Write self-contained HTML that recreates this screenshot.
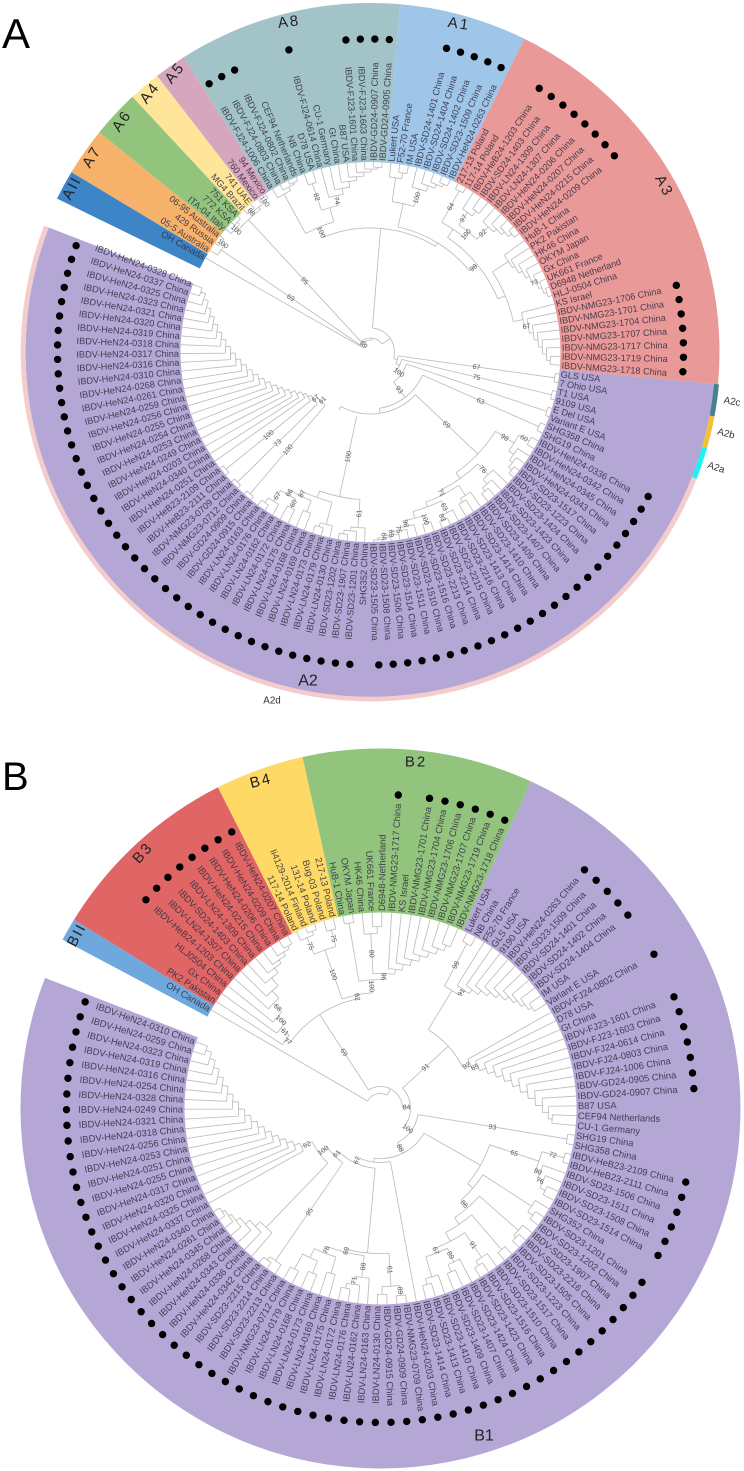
<!DOCTYPE html>
<html lang="en">
<head>
<meta charset="utf-8">
<title>IBDV circular phylogenetic trees A and B</title>
<style>
html,body{margin:0;padding:0;background:#fff;}
svg{display:block;font-family:"Liberation Sans",Arial,sans-serif;}
.leaf{fill:#322f40;fill-opacity:.88;}
.sup{fill:#5c5c5c;font-size:7px;}
.clade{fill:#222;font-size:15px;letter-spacing:2px;text-anchor:middle;dominant-baseline:central;}
.small{fill:#333;font-size:9.8px;text-anchor:middle;dominant-baseline:central;}
</style>
</head>
<body>
<svg id="figure" xmlns="http://www.w3.org/2000/svg" width="744" height="1471" viewBox="0 0 744 1471">
  <g id="panelA"></g>
  <g id="panelB"></g>

  <text x="2" y="48" font-size="42" fill="#000">A</text>
  <text x="2" y="790" font-size="40" fill="#000">B</text>

  <text class="clade" transform="translate(289,22) rotate(-7)">A8</text>
  <text class="clade" transform="translate(459,24) rotate(8)">A1</text>
  <text class="clade" transform="translate(664,186) rotate(62)">A3</text>
  <text class="clade" transform="translate(175,73) rotate(-52)">A5</text>
  <text class="clade" transform="translate(150,93) rotate(-52)">A4</text>
  <text class="clade" transform="translate(122,121) rotate(-55)">A6</text>
  <text class="clade" transform="translate(92,157) rotate(-58)">A7</text>
  <text class="clade" transform="translate(72,188) rotate(-62)">AII</text>
  <text class="clade" transform="translate(308,681)" style="letter-spacing:0;font-size:16px">A2</text>
  <text class="small" transform="translate(272,701)">A2d</text>
  <text class="small" transform="translate(732,402) rotate(10)">A2c</text>
  <text class="small" transform="translate(726,434) rotate(15)">A2b</text>
  <text class="small" transform="translate(716,468) rotate(18)">A2a</text>

  <text class="clade" transform="translate(77,935) rotate(-62)">BII</text>
  <text class="clade" transform="translate(143,853) rotate(-48)">B3</text>
  <text class="clade" transform="translate(261,781) rotate(-14)">B4</text>
  <text class="clade" transform="translate(416,762)">B2</text>
  <text class="clade" transform="translate(484,1436)" style="letter-spacing:0;font-size:16px">B1</text>
</svg>

<script>
// ---------- Panel A data ----------
const leavesA = ["OH Canada","05-5 Australia","429 Russia","06-95 Australia","ITA-04 Italy","772 KSA","751 KSA","MG4 Brazil","741 UAE","760 Mexico","94 Mexico",
"IBDV-FJ24-1006 China","IBDV-FJ24-0803 China","IBDV-FJ24-0802 China","CEF94 Netherlands","NB China","D78 USA","IBDV-FJ24-0614 China","CU-1 Germany","Gt China","B87 USA","IBDV-FJ23-1601 China","IBDV-FJ23-1603 China","IBDV-GD24-0907 China","IBDV-GD24-0905 China",
"Lukert USA","F52-70 France","IM USA","IBDV-SD24-1401 China","IBDV-SD24-1404 China","IBDV-SD24-1402 China","IBDV-SD23-1509 China","IBDV-HeN24-0263 China",
"217-13 Poland","117-14 Poland","IBDV-HeB24-1203 China","IBDV-SD24-1403 China","IBDV-LN24-1309 China","IBDV-LN24-1307 China","IBDV-HeN24-0206 China","IBDV-HeN24-0207 China","IBDV-HeN24-0215 China","IBDV-HeN24-0209 China","HuB-1 China","PK2 Pakistan","HK46 China","OKYM Japan","Gx China","UK661 France","D6948 Netherland","HLJ-0504 China","KS Israel","IBDV-NMG23-1706 China","IBDV-NMG23-1701 China","IBDV-NMG23-1704 China","IBDV-NMG23-1707 China","IBDV-NMG23-1717 China","IBDV-NMG23-1719 China","IBDV-NMG23-1718 China",
"GLS USA","7 Ohio USA","T1 USA","9109 USA","E Del USA","Variant E USA","SHG358 China","SHG19 China","IBDV-HeN24-0336 China","IBDV-HeN24-0342 China","IBDV-HeN24-0345 China","IBDV-HeN24-0343 China","IBDV-SD23-1517 China","IBDV-SD23-1223 China","IBDV-SD23-1424 China","IBDV-SD23-1423 China","IBDV-SD23-1407 China","IBDV-SD23-1409 China","IBDV-SD23-1410 China","IBDV-SD23-1414 China","IBDV-SD23-1413 China","IBDV-SD23-2216 China","IBDV-SD23-2215 China","IBDV-SD23-2214 China","IBDV-SD23-2213 China","IBDV-SD23-1516 China","IBDV-SD23-1510 China","IBDV-SD23-1511 China","IBDV-SD23-1514 China","IBDV-SD23-1506 China","IBDV-SD23-1508 China","IBDV-SD23-1505 China",
"SHG352 China","IBDV-SD23-1201 China","IBDV-SD23-1907 China","IBDV-SD23-1202 China","IBDV-LN24-0130 China","IBDV-LN24-0179 China","IBDV-LN24-0173 China","IBDV-LN24-0169 China","IBDV-LN24-0168 China","IBDV-LN24-0175 China","IBDV-LN24-0172 China","IBDV-LN24-0162 China","IBDV-LN24-0176 China","IBDV-LN24-0163 China","IBDV-GD24-0915 China","IBDV-GD24-0909 China","IBDV-NMG23-0712 China","IBDV-NMG23-0709 China","IBDV-HeB23-2111 China","IBDV-HeB23-2109 China","IBDV-HeN24-0251 China","IBDV-HeN24-0340 China","IBDV-HeN24-0203 China","IBDV-HeN24-0249 China","IBDV-HeN24-0253 China","IBDV-HeN24-0254 China","IBDV-HeN24-0255 China","IBDV-HeN24-0256 China","IBDV-HeN24-0259 China","IBDV-HeN24-0261 China","IBDV-HeN24-0268 China","IBDV-HeN24-0310 China","IBDV-HeN24-0316 China","IBDV-HeN24-0317 China","IBDV-HeN24-0318 China","IBDV-HeN24-0319 China","IBDV-HeN24-0320 China","IBDV-HeN24-0321 China","IBDV-HeN24-0323 China","IBDV-HeN24-0325 China","IBDV-HeN24-0337 China","IBDV-HeN24-0328 China"];
const cladeNamesA = ["AII","A7","A6","A4","A5","A8","A1","A3","A2"];
const cladeCountsA = [1,3,3,2,2,14,8,26,74];
const subcladeNamesA = ["A2c","A2b","A2a","A2d"];
const subcladeCountsA = [2,2,2,68];
// Tree nodes: [depth, support, ...children]; a bare number is a leaf index.
const treeA = [10,"69",
  [189,null,0],
  [12,null,
    [181,"69",1,[185,"100",2,3]],
    [14,null,
      [180,"95",[183,"100",4,[186,null,5,6]],[183,null,[185,"88",7,8],[185,"100",9,10]]],
      [24,null,
        [124,null,
          [135,"100",
            [180,null,11,[184,null,12,[186,null,13,14]]],
            [150,null,[178,"82",15,16],[160,"74",17,[166,null,18,[172,null,19,[176,null,20,[180,null,21,[183,null,22,[185,null,23,24]]]]]]]]
          ],
          [128,null,
            [152,null,[176,null,25,[182,null,26,27]],[170,"100",28,[176,null,29,[180,null,30,[183,null,31,32]]]]],
            [138,"98",
              [148,null,[184,"64",33,34],[155,"100",[170,"97",35,[176,null,36,37]],[172,"92",38,[176,null,39,[180,null,40,[184,null,41,42]]]]]],
              [146,null,
                [165,null,43,[168,null,44,[172,null,45,[176,null,46,[180,"73",47,[183,null,48,[186,null,49,50]]]]]]],
                [156,null,51,[160,"67",52,[164,null,53,[168,null,54,[172,null,55,[176,null,56,[180,null,57,58]]]]]]]
              ]
            ]
          ]
        ],
        [28,null,
          [186,"67",59,60],
          [32,null,
            [186,"75",61,62],
            [38,"100",
              [186,null,63,64],
              [57,"93",
                [184,"63",65,66],
                [62,null,
                  [148,"69",
                    [170,"98",[182,"60",67,68],[176,null,69,[180,null,70,[184,null,71,72]]]],
                    [155,null,
                      [170,"76",73,[176,null,74,[180,null,75,76]]],
                      [160,"71",
                        [172,null,77,[176,null,78,79]],
                        [165,null,
                          [178,"63",80,[183,"83",81,82]],
                          [172,null,[180,"100",83,84],[178,"98",85,[181,"75",86,[184,"69",87,[186,"64",88,[188,null,89,90]]]]]]
                        ]
                      ]
                    ]
                  ],
                  [66,null,
                    [70,"61",
                      [186,"100",105,106],
                      [74,"67",
                        [186,"73",107,108],
                        [77,null,
                          [186,"100",109,110],
                          [80,null,111,[85,null,112,[90,null,113,[95,null,114,[100,null,115,[105,null,116,[110,null,117,[115,null,118,[120,null,119,[125,null,120,[130,null,121,[135,null,122,[140,null,123,[145,null,124,[150,null,125,[155,null,126,[160,null,127,[165,null,128,[170,null,129,[175,null,130,[180,null,131,132]]]]]]]]]]]]]]]]]]]]]
                        ]
                      ]
                    ],
                    [148,"100",
                      [176,"61",91,[180,null,92,[184,null,93,94]]],
                      [155,null,[178,null,95,[182,null,96,97]],[160,"87",[172,null,98,99],[165,"66",[175,"60",100,101],[178,"67",102,[184,null,103,104]]]]]
                    ]
                  ]
                ]
              ]
            ]
          ]
        ]
      ]
    ]
  ]
];

// ---------- Panel B data ----------
const leavesB = ["OH Canada","PK2 Pakistan","Gx China","HLJ0504 China","IBDV-HeB24-1203 China","IBDV-LN24-1307 China","IBDV-SD24-1403 China","IBDV-LN24-1309 China","IBDV-HeN24-0215 China","IBDV-HeN24-0206 China","IBDV-HeN24-0209 China","IBDV-HeN24-0207 China",
"117-14 Poland","Ii4129-2014 Finland","131-14 Poland","Bug-03 Poland","217-13 Poland",
"HuB-1 China","OKYM Japan","HK46 China","UK661 France","D6948-Netherland","IBDV-NMG23-1717 China","KS Israel","IBDV-NMG23-1701 China","IBDV-NMG23-1704 China","IBDV-NMG23-1706 China","IBDV-NMG23-1707 China","IBDV-NMG23-1719 China","IBDV-NMG23-1718 China",
"Lukert USA","NB China","F52-70 France","GLS USA","9190 USA","IBDV-HeN24-0263 China","IBDV-SD23-1509 China","IBDV-SD24-1401 China","IBDV-SD24-1402 China","IBDV-SD24-1404 China","IM USA","Variant E USA","IBDV-FJ24-0802 China","D78 USA","Gt China","IBDV-FJ23-1601 China","IBDV-FJ23-1603 China","IBDV-FJ24-0614 China","IBDV-FJ24-0803 China","IBDV-FJ24-1006 China","IBDV-GD24-0905 China","IBDV-GD24-0907 China","B87 USA","CEF94 Netherlands","CU-1 Germany","SHG19 China","SHG358 China","IBDV-HeB23-2109 China","IBDV-HeB23-2111 China","IBDV-SD23-1506 China","IBDV-SD23-1511 China","IBDV-SD23-1508 China","IBDV-SD23-1514 China","SHG352 China","IBDV-SD23-1201 China","IBDV-SD23-1202 China","IBDV-SD23-1907 China","IBDV-SD23-2216 China","IBDV-SD23-1505 China","IBDV-SD23-1223 China","IBDV-SD23-1517 China","IBDV-SD23-1510 China","IBDV-SD23-1516 China","IBDV-SD23-1423 China","IBDV-SD23-1424 China","IBDV-SD23-1407 China","IBDV-SD23-1409 China","IBDV-SD23-1410 China","IBDV-SD23-1413 China","IBDV-SD23-1414 China","IBDV-HeN24-0203 China","IBDV-NMG23-0709 China","IBDV-GD24-0909 China","IBDV-GD24-0915 China","IBDV-LN24-0130 China","IBDV-LN24-0163 China","IBDV-LN24-0162 China","IBDV-LN24-0176 China","IBDV-LN24-0172 China","IBDV-LN24-0175 China","IBDV-LN24-0169 China","IBDV-LN24-0173 China","IBDV-LN24-0168 China","IBDV-LN24-0179 China","IBDV-NMG23-0712 China","IBDV-SD23-2213 China","IBDV-SD23-2214 China","IBDV-SD23-2215 China","IBDV-HeN24-0342 China","IBDV-HeN24-0336 China","IBDV-HeN24-0343 China","IBDV-HeN24-0268 China","IBDV-HeN24-0345 China","IBDV-HeN24-0261 China","IBDV-HeN24-0340 China","IBDV-HeN24-0337 China","IBDV-HeN24-0325 China","IBDV-HeN24-0320 China","IBDV-HeN24-0317 China","IBDV-HeN24-0255 China","IBDV-HeN24-0251 China","IBDV-HeN24-0253 China","IBDV-HeN24-0256 China","IBDV-HeN24-0318 China","IBDV-HeN24-0321 China","IBDV-HeN24-0249 China","IBDV-HeN24-0328 China","IBDV-HeN24-0254 China","IBDV-HeN24-0316 China","IBDV-HeN24-0319 China","IBDV-HeN24-0323 China","IBDV-HeN24-0259 China","IBDV-HeN24-0310 China"];
const cladeNamesB = ["BII","B3","B4","B2","B1"];
const cladeCountsB = [1,11,5,13,93];
const treeB = [15,null,
  [195,null,0],
  [22,null,
    [112,"69",
      [117,"77",1,[128,"61",2,[138,"100",3,[150,"68",4,[160,null,5,[170,null,6,[176,null,7,[180,null,8,[184,null,9,[187,null,10,11]]]]]]]]]],
      [116,"82",
        [168,"100",[186,"75",12,[190,null,13,14]],[185,"75",15,16]],
        [129,"100",
          [188,null,17,18],
          [135,"98",
            [175,"80",19,[182,null,20,21]],
            [140,null,22,[146,null,23,[152,null,24,[158,null,25,[164,null,26,[170,null,27,[176,null,28,29]]]]]]]
          ]
        ]
      ]
    ],
    [30,"84",
      [92,"91",
        [138,null,
          [186,"98",30,31],
          [145,"91",32,[150,null,33,[155,null,34,[160,null,35,[165,null,36,[170,null,37,[174,null,38,[178,null,39,[182,null,40,41]]]]]]]]]
        ],
        [100,"92",42,[106,"65",43,[113,null,44,[120,null,45,[127,null,46,[134,null,47,[141,null,48,[148,null,49,[155,null,50,[162,null,51,[168,null,52,[172,null,53,54]]]]]]]]]]]]
      ],
      [38,"100",
        [189,"93",55,56],
        [50,"88",
          [115,null,
            [167,"65",[190,"72",57,58],[172,"80",59,[178,"76",60,[184,null,61,62]]]],
            [122,null,
              [180,null,63,[186,null,64,65]],
              [132,"86",
                [184,null,66,[187,null,67,68]],
                [140,null,
                  [186,null,69,70],
                  [150,null,
                    [180,"91",71,[185,null,72,73]],
                    [155,"67",[170,"89",74,[178,null,75,76]],[176,null,77,[182,null,78,79]]]
                  ]
                ]
              ]
            ]
          ],
          [54,null,
            [190,null,80],
            [60,"67",
              [145,null,
                [178,"61",[188,"89",81,82],[186,null,83,84]],
                [148,"69",
                  [170,"88",85,[178,"71",86,[183,null,87,88]]],
                  [155,"78",[172,null,89,90],[165,null,[178,null,91,92],[182,null,93,94]]]
                ]
              ],
              [66,"61",
                [185,"95",95,[189,null,96,97]],
                [76,"100",
                  [165,null,98,[172,null,99,[178,null,100,[183,null,101,[186,null,102,[189,null,103,104]]]]]],
                  [88,"62",105,[94,null,106,[100,null,107,[106,null,108,[112,null,109,[118,null,110,[124,null,111,[130,null,112,[136,null,113,[142,null,114,[148,null,115,[154,null,116,[160,null,117,[166,null,118,[172,null,119,[178,null,120,[184,null,121,122]]]]]]]]]]]]]]]]]
                ]
              ]
            ]
          ]
        ]
      ]
    ]
  ]
];

// ---------- Styles (not data) ----------
const cladeFill = {AII:"#3d85c6",A7:"#f6b26b",A6:"#93c47d",A4:"#ffe599",A5:"#d5a6bd",A8:"#a2c4c9",A1:"#9fc5e8",A3:"#ea9999",A2:"#b4a7d6",
  BII:"#6fa8dc",B3:"#e06666",B4:"#ffd966",B2:"#93c47d",B1:"#b4a7d6"};
const subFill = {A2c:"#45818e",A2b:"#f1c232",A2a:"#1ff0f5",A2d:"#f4cccc"};

const NS = "http://www.w3.org/2000/svg";
function mk(parent, tag, attrs){
  const el = document.createElementNS(NS, tag);
  for (const k in attrs) el.setAttribute(k, attrs[k]);
  parent.appendChild(el);
  return el;
}
function drawPanel(cfg){
  const g = document.getElementById(cfg.id);
  const cx = cfg.cx, cy = cfg.cy;
  const axis = t => cfg.start + cfg.step * t;
  const dotAxis = t => cfg.dotStart + cfg.dotStep * t;
  const pt = (r, deg) => {
    const a = deg * Math.PI / 180;
    return [(cx + r * Math.cos(a)).toFixed(2), (cy + r * Math.sin(a)).toFixed(2)];
  };
  const wedge = (r0, r1, a0, a1) => {
    const p1 = pt(r1, a0), p2 = pt(r1, a1), p3 = pt(r0, a1), p4 = pt(r0, a0);
    const big = (a1 - a0) > 180 ? 1 : 0;
    return "M" + p1 + "A" + r1 + " " + r1 + " 0 " + big + " 1 " + p2 + "L" + p3 + "A" + r0 + " " + r0 + " 0 " + big + " 0 " + p4 + "Z";
  };

  // clade sectors
  let idx = 0;
  cfg.names.forEach((name, k) => {
    const n = cfg.counts[k];
    let a0 = axis(idx - 0.5), a1 = axis(idx + n - 0.5);
    if (k === 0) a0 -= cfg.padStart;
    if (k === cfg.names.length - 1) a1 -= cfg.padEnd;
    const outer = (cfg.outerBy && cfg.outerBy[name]) || cfg.outer;
    const s = mk(g, "path", {d: wedge(cfg.inner, outer, a0, a1), fill: cladeFill[name]});
    
    
    idx += n;
  });

  // subclade ring
  if (cfg.subNames){
    let j = cfg.subStart;
    cfg.subNames.forEach((name, k) => {
      const n = cfg.subCounts[k];
      const last = j + n >= cfg.leaves.length;
      const s = mk(g, "path", {d: wedge(cfg.ring[0], cfg.ring[1], axis(j - 0.5), axis(j + n - 0.5) - (last ? cfg.padEnd : 0)), fill: subFill[name]});
      
      
      j += n;
    });
  }

  // tree branches
  let d = "";
  const supports = [];
  function place(n){
    if (typeof n === "number") return {a: axis(n), r: cfg.tip, sup: null};
    const r = n[0], sup = n[1], kids = n.slice(2).map(place);
    const a0 = kids[0].a, a1 = kids[kids.length - 1].a;
    kids.forEach(k => {
      d += "M" + pt(r, k.a) + "L" + pt(k.r, k.a);
      if (k.sup) supports.push({text: k.sup, r: (r + k.r) / 2, a: k.a});
    });
    if (a1 > a0) d += "M" + pt(r, a0) + "A" + r + " " + r + " 0 " + ((a1 - a0) > 180 ? 1 : 0) + " 1 " + pt(r, a1);
    return {a: (a0 + a1) / 2, r: r, sup: sup};
  }
  const root = place(cfg.tree);
  if (root.sup) supports.push({text: root.sup, r: root.r, a: root.a});
  const br = mk(g, "path", {d: d, fill: "none", stroke: "#bcbcbc", "stroke-width": "0.85"});
  
  

  const rot = (r, a) => {
    const p = pt(r, a);
    const right = Math.cos(a * Math.PI / 180) >= 0;
    return {p: p, right: right, tr: "translate(" + p + ") rotate(" + (right ? a : a + 180).toFixed(2) + ")"};
  };

  // support labels
  supports.forEach(s => {
    const q = rot(s.r, s.a);
    const t = mk(g, "text", {class: "sup", transform: q.tr, "text-anchor": "middle", dy: "2.4"});
    t.textContent = s.text;
    
    
  });

  // leaf labels and study-strain dots
  cfg.leaves.forEach((name, i) => {
    const a = axis(i);
    const q = rot(cfg.tip + 1.5, a);
    const t = mk(g, "text", {class: "leaf", transform: q.tr, "text-anchor": q.right ? "start" : "end", dy: "3.2", "font-size": cfg.font});
    t.textContent = name;
    
    
    if (name.indexOf("IBDV") === 0){
      const p = pt(cfg.dotR, dotAxis(i));
      const c = mk(g, "circle", {cx: p[0], cy: p[1], r: "3.7", fill: "#000"});
      
      
    }
  });
}

drawPanel({id:"panelA", cx:370.5, cy:352, start:209.7, step:2.66, dotStart:209.8, dotStep:2.652, inner:190, outer:349, outerBy:{A2:345},
  tip:190, dotR:313, font:9.2, padStart:2.3, padEnd:1.0,
  leaves:leavesA, names:cladeNamesA, counts:cladeCountsA, tree:treeA,
  subNames:subcladeNamesA, subCounts:subcladeCountsA, subStart:59, ring:[345,350]});
drawPanel({id:"panelB", cx:380.5, cy:1108.5, start:210.2, step:2.866, dotStart:210.2, dotStep:2.866, inner:196, outer:360,
  tip:196, dotR:314, font:9.4, padStart:0.8, padEnd:0,
  leaves:leavesB, names:cladeNamesB, counts:cladeCountsB, tree:treeB});
</script>
</body>
</html>
